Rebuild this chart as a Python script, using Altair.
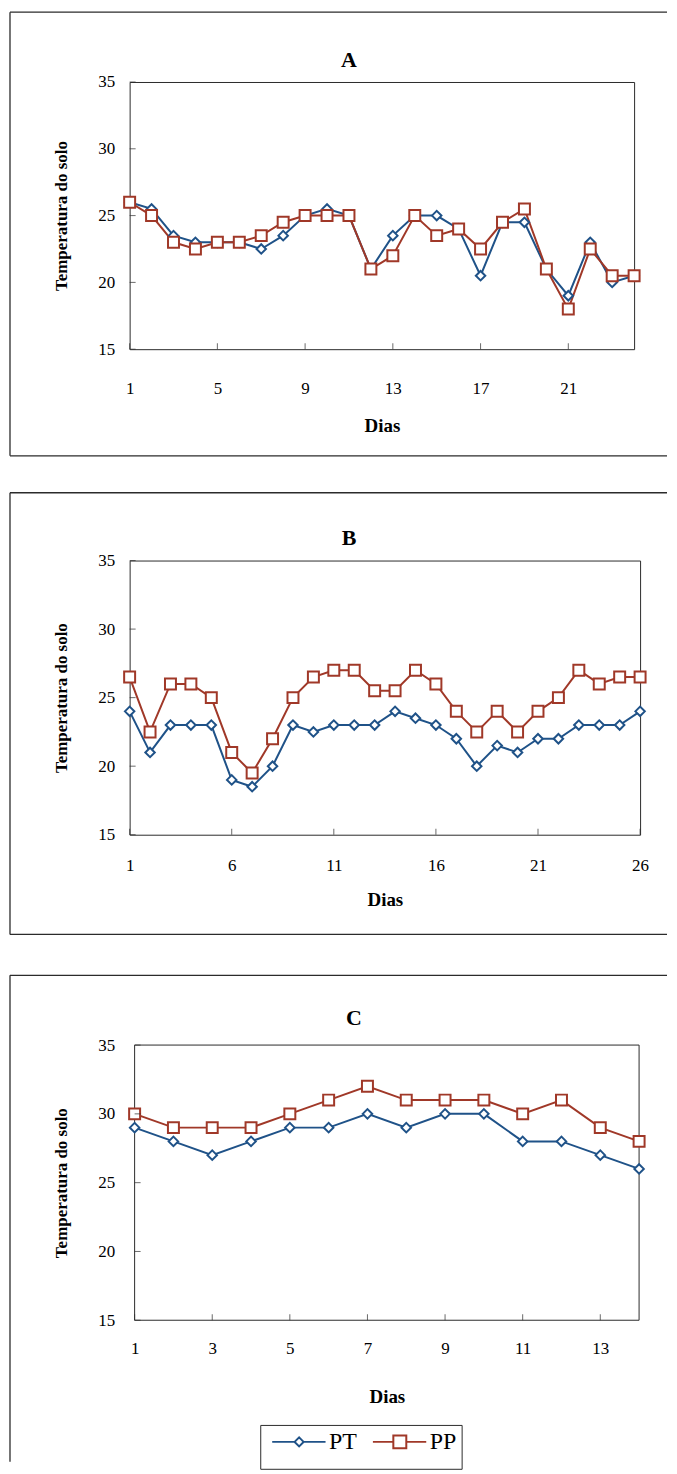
import altair as alt
import pandas as pd

# ---------------- data ----------------
SERIES = ["PT", "PP"]
COLORS = ["#1f5288", "#a03828"]
Y_TITLE = "Temperatura do solo"
X_TITLE = "Dias"
Y_TICKS = [15, 20, 25, 30, 35]

DAYS_A = list(range(1, 25))
PT_A = [26, 25.5, 23.5, 23, 23, 23, 22.5, 23.5, 25, 25.5, 25, 21,
        23.5, 25, 25, 24, 20.5, 24.5, 24.5, 21, 19, 23, 20, 20.5]
PP_A = [26, 25, 23, 22.5, 23, 23, 23.5, 24.5, 25, 25, 25, 21,
        22, 25, 23.5, 24, 22.5, 24.5, 25.5, 21, 18, 22.5, 20.5, 20.5]
X_TICKS_A = [1, 5, 9, 13, 17, 21]

DAYS_B = list(range(1, 27))
PT_B = [24, 21, 23, 23, 23, 19, 18.5, 20, 23, 22.5, 23, 23, 23,
        24, 23.5, 23, 22, 20, 21.5, 21, 22, 22, 23, 23, 23, 24]
PP_B = [26.5, 22.5, 26, 26, 25, 21, 19.5, 22, 25, 26.5, 27, 27, 25.5,
        25.5, 27, 26, 24, 22.5, 24, 22.5, 24, 25, 27, 26, 26.5, 26.5]
X_TICKS_B = [1, 6, 11, 16, 21, 26]

DAYS_C = list(range(1, 15))
PT_C = [29, 28, 27, 28, 29, 29, 30, 29, 30, 30, 28, 28, 27, 26]
PP_C = [30, 29, 29, 29, 30, 31, 32, 31, 31, 31, 30, 31, 29, 28]
X_TICKS_C = [1, 3, 5, 7, 9, 11, 13]

# ---------------- style ----------------
FONT = "Liberation Serif, Times New Roman, serif"
INK = "#2b2b2b"

# legend symbols: short line with the marker in the middle (unit = sqrt(size)/2 px)
PATH_PT = ("M4.4,-3.6M4.4,3.6M-1,0L3.5,0M5.3,0L9.7,0"
           "M3.5,0L4.4,-0.9L5.3,0L4.4,0.9Z")
PATH_PP = ("M4.4,-3.6M4.4,3.6M-1,0L3.1,0M5.7,0L9.7,0"
           "M3.1,-1.3L5.7,-1.3L5.7,1.3L3.1,1.3Z")

ONE = alt.Data(values=[{}])


def rule(x1, x2, y1, y2, width=1.3, opacity=1):
    return alt.Chart(ONE).mark_rule(stroke=INK, strokeWidth=width,
                                    strokeOpacity=opacity).encode(
        x=alt.value(x1), x2=alt.value(x2), y=alt.value(y1), y2=alt.value(y2))


def panel(letter, days, pt, pp, xticks, w, h, xlab_pad, xttl_pad,
          ylab_pad, yttl_pad, frame, letter_pos, x0=0, bottom_edge=True,
          extra_bottom=0, legend_pos=None):
    df = pd.DataFrame({
        "day": days + days,
        "temp": pt + pp,
        "series": ["PT"] * len(days) + ["PP"] * len(days),
    })
    if x0:
        xscale = alt.Scale(domain=[days[0], days[-1]], nice=False, zero=False,
                           range=[x0, w])
    else:
        xscale = alt.Scale(domain=[days[0], days[-1]], nice=False, zero=False)
    yscale = alt.Scale(domain=[15, 35], nice=False, zero=False)
    cscale = alt.Scale(domain=SERIES, range=COLORS)

    xaxis = alt.Axis(values=xticks, title=X_TITLE, ticks=False, domain=False,
                     grid=False, labelPadding=xlab_pad, titlePadding=xttl_pad,
                     labelFlush=False, labelFont=FONT, labelFontSize=17,
                     labelColor="black", titleFont=FONT, titleFontSize=19,
                     titleFontWeight="bold", titleColor="black")
    yaxis = alt.Axis(values=Y_TICKS, title=Y_TITLE, ticks=False, domain=False,
                     grid=False, labelPadding=ylab_pad, titlePadding=yttl_pad,
                     labelFont=FONT, labelFontSize=17, labelColor="black",
                     titleFont=FONT, titleFontSize=17, titleFontWeight="bold",
                     titleColor="black")
    X = alt.X("day:Q", scale=xscale, axis=xaxis)
    Y = alt.Y("temp:Q", scale=yscale, axis=yaxis)
    if legend_pos is None:
        C = alt.Color("series:N", scale=cscale, legend=None)
    else:
        C = alt.Color("series:N", scale=cscale)

    fx1, fy1, fx2, fy2 = frame
    layers = [rule(fx1, fx2, fy1, fy1), rule(fx1, fx1, fy1, fy2)]
    if bottom_edge:
        layers.append(rule(fx1, fx2, fy2, fy2))
    if extra_bottom:
        layers.append(rule(fx1, fx1 + 1, fy2 + extra_bottom, fy2 + extra_bottom,
                           opacity=0))
    if x0:
        # plot border drawn by hand (the plot starts x0 px inside the cell)
        layers += [rule(x0, w, 0, 0, 1), rule(x0, w, h, h, 1),
                   rule(x0, x0, 0, h, 1), rule(w, w, 0, h, 1)]

    lines = alt.Chart(df).mark_line(strokeWidth=2).encode(x=X, y=Y, color=C)

    pts_pt = alt.Chart(df).transform_filter(alt.datum.series == "PT").mark_point(
        shape="diamond", filled=False, fill="white", fillOpacity=1,
        strokeWidth=2, size=90, opacity=1
    ).encode(x=X, y=Y, color=C)
    pts_pp = alt.Chart(df).transform_filter(alt.datum.series == "PP").mark_point(
        shape="square", filled=False, fill="white", fillOpacity=1,
        strokeWidth=2, size=121, opacity=1
    ).encode(x=X, y=Y, color=C)

    xt = alt.Chart(pd.DataFrame({"day": xticks})).mark_tick(
        orient="vertical", size=6, thickness=1, color=INK
    ).encode(x=X, y=alt.value(h - 3))
    yt = alt.Chart(pd.DataFrame({"temp": Y_TICKS})).mark_tick(
        orient="horizontal", size=6, thickness=1, color=INK
    ).encode(y=Y, x=alt.value(x0 + 3))

    lx, ly = letter_pos
    title = alt.Chart(alt.Data(values=[{"label": letter}])).mark_text(
        font=FONT, fontSize=22, fontWeight="bold", color="black",
        baseline="middle", align="center"
    ).encode(text="label:N", x=alt.value(lx), y=alt.value(ly))

    layers += [lines, pts_pt, pts_pp, xt, yt, title]

    if legend_pos is not None:
        lgx, lgy = legend_pos
        leg = alt.Legend(
            title=None, orient="none", legendX=lgx, legendY=lgy,
            direction="horizontal", symbolSize=100, symbolStrokeWidth=2,
            symbolFillColor="white", symbolOpacity=1,
            labelFont=FONT, labelFontSize=24, labelColor="black",
            labelOffset=40, columnPadding=8, padding=5,
            strokeColor=INK, fillColor="white",
        )
        leg_layer = alt.Chart(df).mark_point(opacity=0, filled=False).encode(
            x=X, y=Y,
            color=alt.Color("series:N", scale=cscale, legend=leg),
            shape=alt.Shape("series:N",
                            scale=alt.Scale(domain=SERIES, range=[PATH_PT, PATH_PP]),
                            legend=leg),
        )
        layers.append(leg_layer)

    ch = alt.layer(*layers).properties(width=w, height=h)
    if x0:
        ch = ch.properties(view=alt.ViewBackground(stroke="transparent"))
    return ch


pa = panel("A", DAYS_A, PT_A, PP_A, X_TICKS_A, 506, 268, 31, 21, 15, 27,
           (-120, -70, 539, 375), (220, -22))
pb = panel("B", DAYS_B, PT_B, PP_B, X_TICKS_B, 512, 275, 23, 17, 15, 27,
           (-120, -68, 539, 375), (220, -23), extra_bottom=5)
pc = panel("C", DAYS_C, PT_C, PP_C, X_TICKS_C, 511, 276, 20, 32, 15, 27,
           (-120, -70, 539, 418), (225, -27), x0=5, bottom_edge=False,
           legend_pos=(131, 381))

chart = alt.vconcat(pa, pb, pc, spacing=33).resolve_scale(
    x="independent", y="independent", color="independent", shape="independent"
).properties(
    padding={"left": 0, "top": 0, "right": 0, "bottom": 0},
    background="white",
).configure_view(
    stroke=INK, strokeWidth=1
)

chart.save("out.html", embed_options={"renderer": "svg", "actions": False})
